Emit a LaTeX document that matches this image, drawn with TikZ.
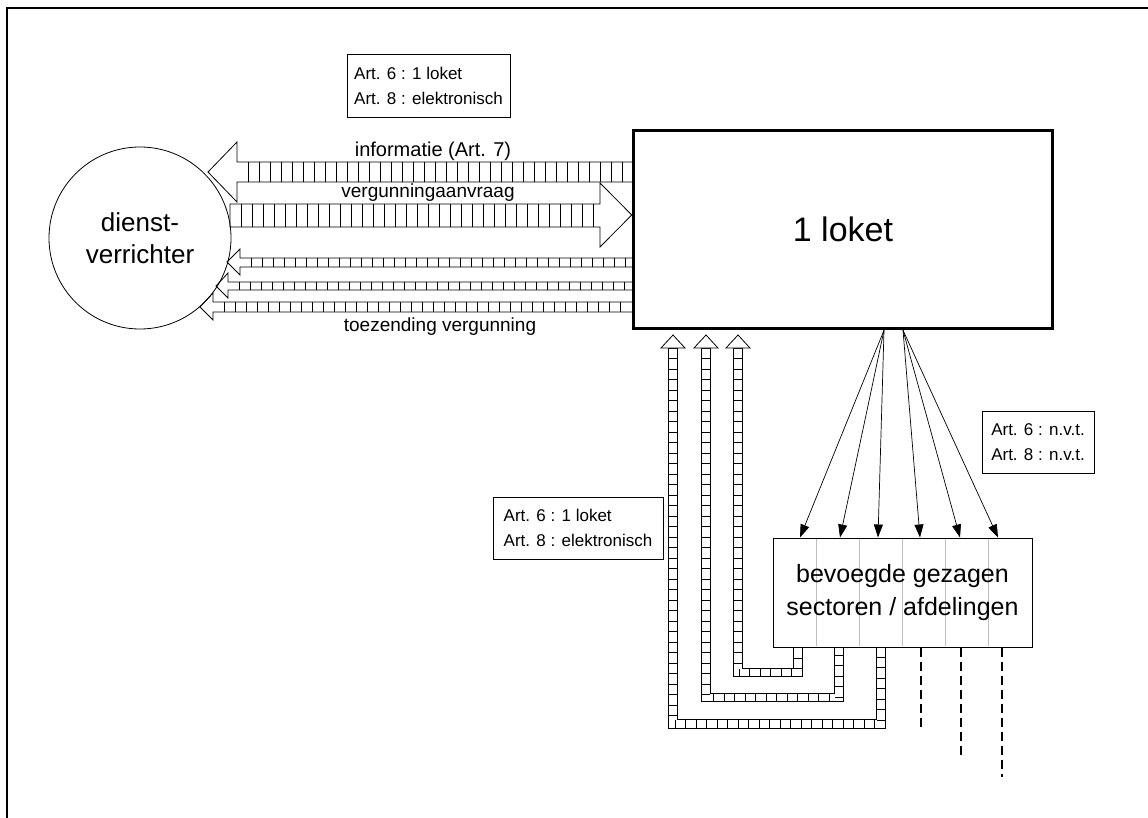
\documentclass[tikz,border=0pt]{standalone}
\usepackage{fontspec}
\setmainfont{Liberation Sans}
\usetikzlibrary{arrows.meta,decorations.markings,calc}
\begin{document}
\begin{tikzpicture}[x=1pt,y=-1pt,
  frame/.style={line width=2.2pt},
  dvnode/.style={circle, draw, line width=0.8pt, minimum size=182pt, inner sep=0pt, align=center, font=\fontsize{26}{32}\selectfont},
  loketnode/.style={rectangle, draw, line width=3.5pt, minimum width=419pt, minimum height=198pt, font=\fontsize{34}{40}\selectfont},
  sectnode/.style={rectangle, draw, line width=1pt, minimum width=259pt, minimum height=109pt, align=center, font=\fontsize{25}{33}\selectfont},
  artbox/.style={rectangle, draw, line width=0.8pt, align=left, font=\fontsize{17}{25}\selectfont, inner sep=0pt},
  flowlabel/.style={font=\fontsize{19}{22}\selectfont, anchor=base, inner sep=0pt},
  wideout/.style={line width=0.8pt, line join=miter},
  hatch/.style={line width=0.5pt},
  feed/.style={-{Triangle[length=13pt,width=9pt]}, line width=0.7pt},
  ladderbody/.style={double distance=7.5pt, line width=0.8pt, line join=miter},
  rungs/.style={decorate, decoration={markings, mark=between positions 0 and 1 step 10.5pt with {\draw[line width=0.5pt] (0,-4pt) -- (0,4pt);}}},
  uphead/.style={line width=0.8pt, fill=white, line join=miter},
  colline/.style={line width=0.8pt, draw=black!25},
  stub/.style={line width=1.8pt, dash pattern=on 9pt off 5pt}
]
\useasboundingbox (0,0) rectangle (1148,818);
\draw[frame] (6.8,818) -- (6.8,7.7) -- (1148,7.7);

% nodes
\node[dvnode] (dv) at (140,238) {dienst-\\verrichter};
\node[loketnode] (loket) at (843,229.5) {1 loket};
\node[sectnode] (sect) at (902.5,592.5) {};
\foreach \cx in {816,859,902,945,988} \draw[colline] (\cx,539) -- (\cx,646);
\node[font=\fontsize{25}{33}\selectfont, align=center] (secttext) at (sect.center) {bevoegde gezagen\\sectoren / afdelingen};
\node[artbox, minimum width=163pt, minimum height=63pt] (box1) at (428.5,85.5) {Art. 6 : 1 loket\\Art. 8 : elektronisch};
\node[artbox, minimum width=170pt, minimum height=62pt] (box2) at (578,528) {Art. 6 : 1 loket\\Art. 8 : elektronisch};
\node[artbox, minimum width=112pt, minimum height=62pt] (box3) at (1038,442) {Art. 6 : n.v.t.\\Art. 8 : n.v.t.};

% wide hatched arrows between dienstverrichter and loket
% informatie (to dv)
\draw[wideout] let \p1=(loket.west) in (\x1,162) -- (237,162) -- (237,142) -- (208,172) -- (237,202) -- (237,182) -- (\x1,182);
\foreach \hx in {248,259,...,630} \draw[hatch] (\hx,162) -- (\hx,182);
% vergunningaanvraag (to loket)
\draw[wideout] let \p1=(loket.west) in (230,204) -- (600,204) -- (600,183) -- (\x1,215) -- (600,247) -- (600,227) -- (230,227) -- cycle;
\foreach \hx in {241,252,...,595} \draw[hatch] (\hx,204) -- (\hx,227);
% three small returning arrows
\draw[wideout] let \p1=(loket.west) in (\x1,258) -- (240,258) -- (240,249) -- (227,262) -- (240,275) -- (240,267) -- (\x1,267);
\foreach \hx in {251,262,...,630} \draw[hatch] (\hx,258) -- (\hx,267);
\draw[wideout] let \p1=(loket.west) in (\x1,282) -- (228,282) -- (228,273) -- (216,286) -- (228,298) -- (228,290) -- (\x1,290);
\foreach \hx in {239,250,...,630} \draw[hatch] (\hx,282) -- (\hx,290);
\draw[wideout] let \p1=(loket.west) in (\x1,302) -- (213,302) -- (213,293) -- (200,307) -- (213,320) -- (213,312) -- (\x1,312);
\foreach \hx in {224,235,...,630} \draw[hatch] (\hx,302) -- (\hx,312);

\node[flowlabel, font=\fontsize{20}{22}\selectfont] (linfo) at (433,157) {informatie (Art. 7)};
\node[flowlabel] (lverg) at (428,198) {vergunningaanvraag};
\node[flowlabel] (ltoez) at (440,331) {toezending vergunning};

% fan-out arrows from loket to sectoren
\coordinate (fA) at ($(loket.south)+(41,0)$);
\coordinate (fB) at ($(loket.south)+(60,0)$);
\foreach \dx in {-102.5,-62.5,-24.5} \draw[feed] (fA) -- ($(sect.north)+(\dx,0)$);
\foreach \dx in {17.5,57.5,95.5} \draw[feed] (fB) -- ($(sect.north)+(\dx,0)$);

% ladder arrows back to loket
\draw[ladderbody] (673,348) |- (881,724) -- (sect.south -| 881,0);
\path[rungs] (673,348) |- (881,724) -- (sect.south -| 881,0);
\draw[uphead] (661,348) -- (673,335) -- (685,348) -- cycle;
\draw[ladderbody] (706,348) |- (839,697.5) -- (sect.south -| 839,0);
\path[rungs] (706,348) |- (839,697.5) -- (sect.south -| 839,0);
\draw[uphead] (694,348) -- (706,335) -- (718,348) -- cycle;
\draw[ladderbody] (738,348) |- (798,672.5) -- (sect.south -| 798,0);
\path[rungs] (738,348) |- (798,672.5) -- (sect.south -| 798,0);
\draw[uphead] (726,348) -- (738,335) -- (750,348) -- cycle;

% dashed stubs
\draw[stub] ($(sect.south)+(18.5,0)$) -- ++(0,80);
\draw[stub] ($(sect.south)+(58.5,0)$) -- ++(0,107);
\draw[stub] ($(sect.south)+(99.5,0)$) -- ++(0,129);
\end{tikzpicture}
\end{document}
